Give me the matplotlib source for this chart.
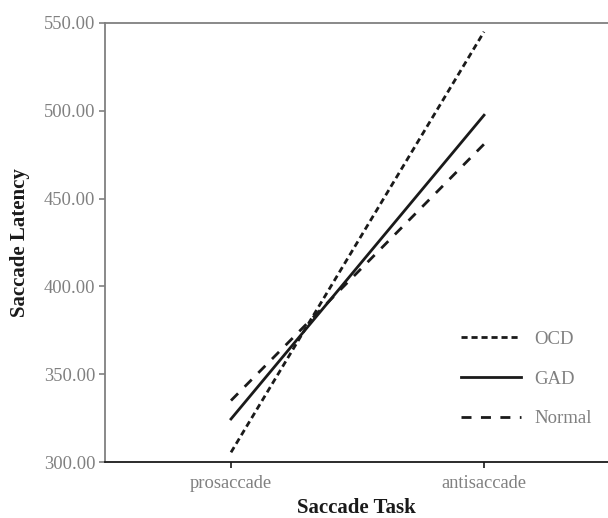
import matplotlib
matplotlib.use('Agg')
import matplotlib.pyplot as plt
from matplotlib.ticker import FuncFormatter

tasks = ['prosaccade', 'antisaccade']
ocd = [305.5, 545.0]
gad = [324.5, 497.5]
normal = [335.0, 481.0]

plt.rcParams['font.family'] = ['Liberation Serif', 'DejaVu Serif']

GRAY = '#808080'
INK = '#1a1a1a'

fig = plt.figure(figsize=(6.08, 5.18), dpi=100)
ax = fig.add_axes([0.1727, 0.1081, 0.8273, 0.8475])

x = list(range(len(tasks)))
ax.plot(x, ocd, color=INK, lw=2.0, dashes=(2.2, 1.4), label='OCD')
ax.plot(x, gad, color=INK, lw=2.0, label='GAD')
ax.plot(x, normal, color=INK, lw=2.0, dashes=(3.6, 3.4), label='Normal')

ax.set_xlim(-0.498, 1.49)
ax.set_ylim(300, 550)
ax.set_xticks(x)
ax.set_xticklabels(tasks)
ax.set_yticks([300, 350, 400, 450, 500, 550])
ax.yaxis.set_major_formatter(FuncFormatter(lambda v, _: f'{v:.2f}'))

ax.tick_params(axis='both', colors=GRAY, labelsize=13.3, length=4, width=1.2)
ax.tick_params(axis='x', color=INK, pad=5)
ax.tick_params(axis='y', pad=3)

ax.spines['right'].set_visible(False)
ax.spines['top'].set_color(GRAY)
ax.spines['left'].set_color(GRAY)
ax.spines['bottom'].set_color(INK)
for s in ax.spines.values():
    s.set_linewidth(1.3)

ax.set_xlabel('Saccade Task', fontsize=15, fontweight='bold', color=INK, labelpad=5)
ax.set_ylabel('Saccade Latency', fontsize=15, fontweight='bold', color=INK, labelpad=10)

leg = ax.legend(frameon=False, loc='upper left', bbox_to_anchor=(0.675, 0.337),
                fontsize=13.5, handlelength=3.2, handletextpad=0.7, labelspacing=1.2)
for t in leg.get_texts():
    t.set_color(GRAY)

fig.savefig('out.png', dpi=100)
